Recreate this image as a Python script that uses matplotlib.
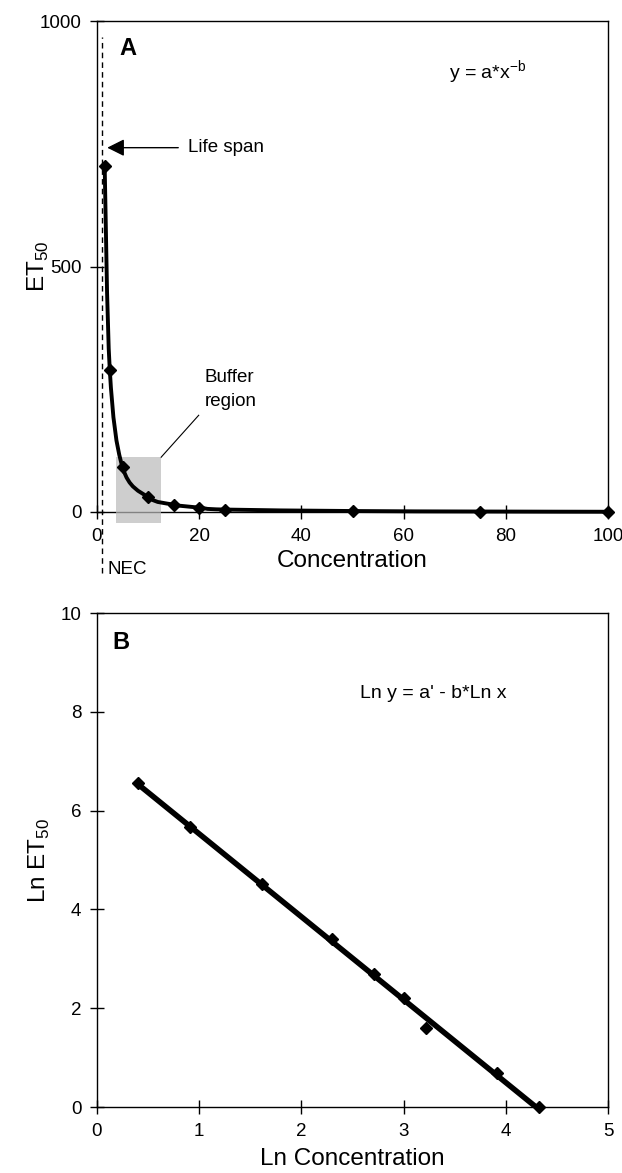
import numpy as np
import matplotlib
matplotlib.use("Agg")
import matplotlib.pyplot as plt
from matplotlib.path import Path
from matplotlib.patches import PathPatch, Rectangle

# panel A: concentration vs ET50
conc = [1.5, 2.5, 5, 10, 15, 20, 25, 50, 75, 100]
et50 = [705, 290, 91, 30, 15, 9, 5, 2, 1, 0.5]

# panel B: log-log
ln_conc = [0.40, 0.91, 1.61, 2.30, 2.71, 3.00, 3.22, 3.91, 4.32]
ln_et50 = [6.55, 5.66, 4.51, 3.40, 2.70, 2.20, 1.60, 0.69, 0.0]

nec_x = 0.9

plt.rcParams["font.family"] = ["Liberation Sans", "DejaVu Sans"]


def smooth_path(xs, ys):
    # excel-like smoothed line (catmull-rom as cubic bezier)
    pts = np.column_stack([xs, ys]).astype(float)
    n = len(pts)
    verts = [pts[0]]
    codes = [Path.MOVETO]
    for i in range(n - 1):
        p0 = pts[max(i - 1, 0)]
        p1 = pts[i]
        p2 = pts[i + 1]
        p3 = pts[min(i + 2, n - 1)]
        verts += [p1 + (p2 - p0) / 6, p2 - (p3 - p1) / 6, p2]
        codes += [Path.CURVE4] * 3
    return Path(verts, codes)


def style_axes(ax):
    for s in ax.spines.values():
        s.set_linewidth(1.0)
        s.set_color("black")
    ax.tick_params(direction="inout", length=10.5, width=1.0, labelsize=13.5, pad=6)


W, H = 622, 1173
fig = plt.figure(figsize=(W / 100, H / 100), dpi=100)

# ---- panel A
axA = fig.add_axes([97 / W, 1 - 512 / H, 511 / W, 491 / H])
style_axes(axA)
axA.set_xlim(0, 100)
axA.set_ylim(0, 1000)
axA.set_xticks([0, 20, 40, 60, 80, 100])
axA.set_yticks([0, 500, 1000])

axA.add_patch(Rectangle((3.8, -22), 8.8, 133, facecolor="0.73", edgecolor="none",
                        alpha=0.7, clip_on=False, zorder=2.6))
axA.add_patch(PathPatch(smooth_path(conc, et50), fill=False, lw=2.8,
                        edgecolor="black", zorder=3, clip_on=False))
axA.plot(conc, et50, ls="none", marker="D", markersize=6.5, color="black",
         zorder=4, clip_on=False)

axA.plot([nec_x, nec_x], [-125, 968], ls=(0, (4, 3)), lw=1.0, color="black",
         clip_on=False, zorder=2)
axA.text(2.0, -118, "NEC", fontsize=13.5, va="center", ha="left")

axA.annotate("", xy=(2.0, 742), xytext=(15.9, 742),
             arrowprops=dict(arrowstyle="-|>", color="black", lw=1.0,
                             mutation_scale=26, shrinkA=0, shrinkB=0))
axA.text(17.8, 742, "Life span", fontsize=13.5, va="center", ha="left")

axA.plot([12.5, 19.9], [111, 197], lw=0.8, color="black")
axA.text(21.0, 250, "Buffer\nregion", fontsize=13.5, va="center", ha="left",
         linespacing=1.5)

axA.text(4.4, 945, "A", fontsize=17, fontweight="bold", va="center", ha="left")
axA.text(84, 895, r"y = a*x$^{\mathregular{-b}}$", fontsize=14, va="center", ha="right")

axA.set_xlabel("Concentration", fontsize=17.5, labelpad=4)
axA.set_ylabel(r"ET$_{\mathregular{50}}$", fontsize=17.5)
axA.yaxis.set_label_coords(-0.09, 0.5)

# ---- panel B
axB = fig.add_axes([97 / W, 1 - 1107 / H, 511 / W, 494 / H])
style_axes(axB)
axB.set_xlim(0, 5)
axB.set_ylim(0, 10)
axB.set_xticks(range(0, 6))
axB.set_yticks(range(0, 11, 2))

slope, icpt = np.polyfit(ln_conc, ln_et50, 1)
fx = np.array([min(ln_conc), max(ln_conc)])
axB.plot(fx, icpt + slope * fx, color="black", lw=4.0, solid_capstyle="butt", zorder=3)
axB.plot(ln_conc, ln_et50, ls="none", marker="D", markersize=6.5, color="black",
         zorder=4, clip_on=False)

axB.text(0.15, 9.4, "B", fontsize=17, fontweight="bold", va="center", ha="left")
axB.text(4.01, 8.38, "Ln y = a' - b*Ln x", fontsize=14, va="center", ha="right")

axB.set_xlabel("Ln Concentration", fontsize=17.5, labelpad=6)
axB.set_ylabel(r"Ln ET$_{\mathregular{50}}$", fontsize=17.5, labelpad=6)

fig.savefig("out.png", dpi=100)
